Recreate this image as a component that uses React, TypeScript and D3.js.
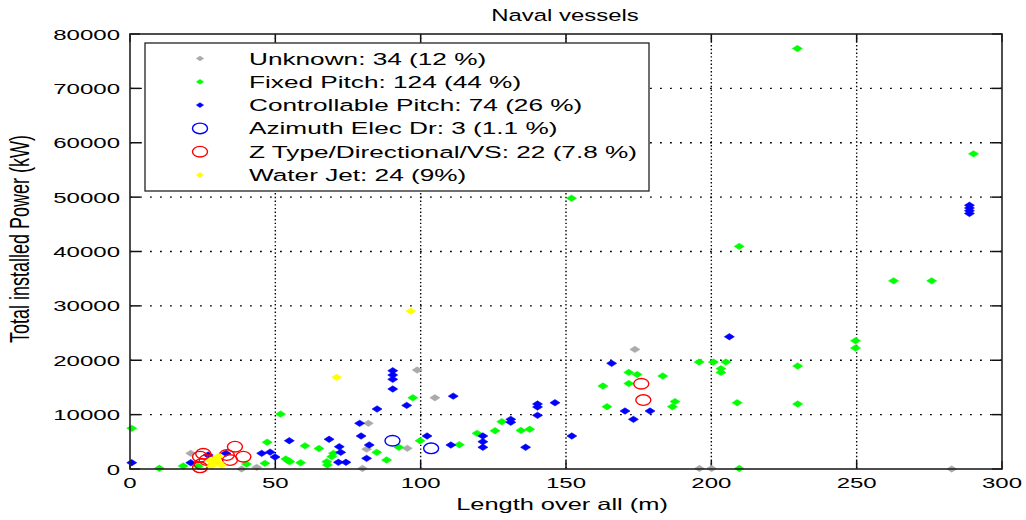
import React from "react";
import * as d3 from "d3";

// Length over all (m) and total installed power (kW) per propulsion type
const unknownPts: [number, number][] = [
  [20.9, 2880], [38.4, 0], [43.6, 300], [80, 100], [81.4, 3650], [82, 8400],
  [95.4, 3800], [98.8, 18200], [104.9, 13100], [173.7, 22000], [195.9, 100],
  [200.1, 100], [282.7, 0],
];

const fixedPitchPts: [number, number][] = [
  [0.6, 7480], [10.1, 130], [18.3, 550], [23.5, 500], [40.1, 900], [46.4, 1040],
  [47.2, 4930], [51.8, 10100], [53.6, 1840], [54.5, 1500], [55, 1350], [58.7, 1160],
  [60.2, 4260], [65, 3770], [67.7, 1350], [67.9, 740], [69.4, 2270], [70, 2880],
  [84.9, 3060], [88.3, 1650], [92.5, 3990], [97.3, 13100], [99.8, 5200],
  [113.3, 4470], [119.4, 6560], [125.6, 7040], [127.9, 8700], [134.5, 7100],
  [137.5, 7300], [151.9, 49800], [162.7, 15260], [164.1, 11460], [171.6, 17770],
  [171.6, 15720], [174.5, 17370], [183.3, 17100], [186.6, 11460], [187.5, 12400],
  [195.8, 19670], [200.7, 19670], [205, 19670], [203.3, 18440], [203.3, 17770],
  [208.9, 12190], [209.6, 40940], [209.6, 100], [229.6, 77330], [229.7, 18930],
  [229.7, 11950], [249.6, 23590], [249.6, 22240], [262.7, 34600], [275.8, 34600],
  [290.2, 57960],
];

const controllablePitchPts: [number, number][] = [
  [0.6, 1160], [20.9, 1160], [26.9, 2570], [33, 2880], [45.3, 2880], [48.2, 3100],
  [49.9, 2200], [54.8, 5200], [68.5, 5460], [72, 4100], [72.5, 3060], [71.7, 1230],
  [74.3, 1230], [79, 8400], [79.5, 6070], [82.3, 4410], [81.4, 1960], [85, 11030],
  [90.4, 18070], [90.4, 17280], [90.4, 16490], [90.4, 14710], [95.2, 11700],
  [102.2, 6070], [110.4, 4410], [111.2, 13400], [121.4, 6070], [121.4, 5020],
  [121.4, 3990], [131, 9130], [131, 8600], [136.1, 3990], [140.2, 11950],
  [140.2, 11400], [140.2, 9870], [146.2, 12190], [152, 6070], [165.7, 19430],
  [170.3, 10660], [178.9, 10660], [173.2, 9130], [206.2, 24320], [288.8, 48500],
  [288.8, 48000], [288.8, 47500], [288.8, 47000],
];

const azimuthPts: [number, number][] = [[90.3, 5200], [103.6, 3800]];

const zTypePts: [number, number][] = [
  [24.1, 310], [24.7, 900], [24.1, 2260], [25.2, 2800], [26.4, 1650], [33.3, 2570],
  [34.4, 1650], [36.1, 4100], [39, 2260], [175.9, 15680], [176.6, 12680],
];

const waterJetPts: [number, number][] = [
  [96.6, 29040], [71.1, 16860], [27.5, 1500], [28.5, 900], [29.5, 2000], [30.5, 1200],
  [31.5, 700], [28, 500], [29, 1500], [30.5, 2300],
];

const legendLabels = [
  "Unknown: 34 (12 %)",
  "Fixed Pitch: 124 (44 %)",
  "Controllable Pitch: 74 (26 %)",
  "Azimuth Elec Dr: 3 (1.1 %)",
  "Z Type/Directional/VS: 22 (7.8 %)",
  "Water Jet: 24 (9%)",
];

const xTicks = [0, 50, 100, 150, 200, 250, 300];
const yTicks = [0, 10000, 20000, 30000, 40000, 50000, 60000, 70000, 80000];

const W = 1026;
const H = 520;
const left = 130, right = 1002, top = 34, bottom = 469;
const FONT = "'Liberation Sans', Arial, sans-serif";
const SX = 1.55;

type Series = { pts: [number, number][]; color: string; kind: "dot" | "ring" };
const series: Series[] = [
  { pts: unknownPts, color: "#aaaaaa", kind: "dot" },
  { pts: fixedPitchPts, color: "#00ff00", kind: "dot" },
  { pts: controllablePitchPts, color: "#0000ff", kind: "dot" },
  { pts: azimuthPts, color: "#0000ff", kind: "ring" },
  { pts: zTypePts, color: "#ff0000", kind: "ring" },
  { pts: waterJetPts, color: "#ffff00", kind: "dot" },
];

function Marker({ x, y, color, kind, small }: { x: number; y: number; color: string; kind: string; small?: boolean }) {
  if (kind === "ring") {
    return <ellipse cx={x} cy={y} rx={7.5} ry={5.3} fill="none" stroke={color} strokeWidth={1.4} />;
  }
  const hw = small ? 3.6 : 5;
  const hh = small ? 2.4 : 3.2;
  return (
    <path
      d={`M${x - hw},${y}L${x},${y - hh}L${x + hw},${y}L${x},${y + hh}Z`}
      fill={color}
      stroke={color}
      strokeWidth={0.6}
    />
  );
}

function SText({ x, y, size, anchor, sx = SX, rotate, children }: any) {
  const tf = rotate
    ? `translate(${x},${y}) scale(${sx},1) rotate(${rotate})`
    : `translate(${x},${y}) scale(${sx},1)`;
  return (
    <text transform={tf} fontSize={size} fontFamily={FONT} textAnchor={anchor} fill="#000">
      {children}
    </text>
  );
}

export default function App() {
  const x = d3.scaleLinear().domain([0, 300]).range([left, right]);
  const y = d3.scaleLinear().domain([0, 80000]).range([bottom, top]);

  const legendX = 145, legendY = 43, legendW = 504, legendH = 148;
  const rowGap = 23.3;

  return (
    <svg
      width={W}
      height={H}
      style={{ position: "absolute", left: 0, top: 0, background: "#fff" }}
    >
      <rect x={0} y={0} width={W} height={H} fill="#fff" />

      {/* dotted grid */}
      {xTicks.slice(1, -1).map((t) => (
        <line key={"gx" + t} x1={x(t)} x2={x(t)} y1={top} y2={bottom}
          stroke="#000" strokeWidth={1.4} strokeDasharray="1.4,2.3" />
      ))}
      {yTicks.slice(1, -1).map((t) => (
        <line key={"gy" + t} x1={left} x2={right} y1={y(t)} y2={y(t)}
          stroke="#000" strokeWidth={1.4} strokeDasharray="1.8,8.2" />
      ))}

      {/* ticks, inward on all four sides */}
      {xTicks.map((t) => (
        <g key={"tx" + t}>
          <line x1={x(t)} x2={x(t)} y1={bottom} y2={bottom - 8} stroke="#111" strokeWidth={1.5} />
          <line x1={x(t)} x2={x(t)} y1={top} y2={top + 8} stroke="#111" strokeWidth={1.5} />
        </g>
      ))}
      {yTicks.map((t) => (
        <g key={"ty" + t}>
          <line x1={left} x2={left + 10} y1={y(t)} y2={y(t)} stroke="#111" strokeWidth={1.5} />
          <line x1={right} x2={right - 10} y1={y(t)} y2={y(t)} stroke="#111" strokeWidth={1.5} />
        </g>
      ))}

      {/* data */}
      {series.map((s, i) => (
        <g key={"s" + i}>
          {s.pts.map((p, j) => (
            <Marker key={j} x={x(p[0])} y={y(p[1])} color={s.color} kind={s.kind} />
          ))}
        </g>
      ))}

      {/* axes box */}
      <rect x={left} y={top} width={right - left} height={bottom - top}
        fill="none" stroke="#222" strokeWidth={1.6} />

      {/* tick labels */}
      {xTicks.map((t) => (
        <SText key={"lx" + t} x={x(t)} y={488} size={15.5} anchor="middle">{t}</SText>
      ))}
      {yTicks.map((t) => (
        <SText key={"ly" + t} x={120} y={y(t) + 5.6} size={15.5} anchor="end">{t}</SText>
      ))}

      {/* titles */}
      <SText x={565} y={21} size={16.5} anchor="middle" sx={1.45}>Naval vessels</SText>
      <SText x={562} y={510} size={16.5} anchor="middle" sx={1.54}>Length over all (m)</SText>
      <SText x={29} y={239} size={18} anchor="middle" sx={1.5} rotate={-90}>Total installed Power (kW)</SText>

      {/* legend */}
      <rect x={legendX} y={legendY} width={legendW} height={legendH}
        fill="#fff" stroke="#222" strokeWidth={1.3} />
      {legendLabels.map((lab, i) => {
        const cy = legendY + 15.5 + i * rowGap;
        const s = series[i];
        return (
          <g key={"lg" + i}>
            <Marker x={200} y={cy} color={s.color} kind={s.kind} small />
            <SText x={249} y={cy + 6} size={16.9} anchor="start">{lab}</SText>
          </g>
        );
      })}
    </svg>
  );
}
